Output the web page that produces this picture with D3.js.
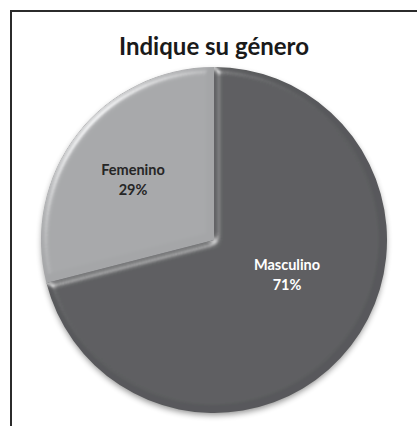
<!DOCTYPE html>
<html><head><meta charset="utf-8">
<script src="https://cdn.jsdelivr.net/npm/d3@7"></script>
<style>
html,body{margin:0;padding:0;background:#fff;}
svg{display:block;}
</style></head>
<body>
<script>
const title = "Indique su género";
const categories = ["Masculino", "Femenino"];
const values = [71, 29];
const colors = ["#58595b", "#a5a6a8"];
const labelColors = ["#ffffff", "#262626"];

const W = 417, H = 426;
const cx = 214, cy = 240, R = 173;

const svg = d3.select("body").append("svg").attr("width", W).attr("height", H);
const defs = svg.append("defs");

// drop shadow
const sh = defs.append("filter").attr("id","shadow").attr("x","-20%").attr("y","-20%").attr("width","140%").attr("height","140%");
sh.append("feGaussianBlur").attr("in","SourceAlpha").attr("stdDeviation",3).attr("result","b");
sh.append("feOffset").attr("in","b").attr("dx",0).attr("dy",3).attr("result","o");
sh.append("feComponentTransfer").attr("in","o").attr("result","o2")
  .append("feFuncA").attr("type","linear").attr("slope",0.45);
const m = sh.append("feMerge");
m.append("feMergeNode").attr("in","o2");
m.append("feMergeNode").attr("in","SourceGraphic");

// bevel filter
const bv = defs.append("filter").attr("id","bevel").attr("x","-10%").attr("y","-10%").attr("width","120%").attr("height","120%");
bv.append("feGaussianBlur").attr("in","SourceAlpha").attr("stdDeviation",3.5).attr("result","blur");
const spec = bv.append("feSpecularLighting").attr("in","blur").attr("surfaceScale",5).attr("specularConstant",0.9)
  .attr("specularExponent",18).attr("lighting-color","#ffffff").attr("result","spec");
spec.append("feDistantLight").attr("azimuth",225).attr("elevation",22);
bv.append("feComposite").attr("in","spec").attr("in2","SourceAlpha").attr("operator","in").attr("result","specIn");
bv.append("feComposite").attr("in","SourceGraphic").attr("in2","specIn").attr("operator","arithmetic")
  .attr("k1",0).attr("k2",1).attr("k3",0.5).attr("k4",0);

// frame
svg.append("rect").attr("x",11).attr("y",11).attr("width",W).attr("height",H)
  .attr("fill","#fff").attr("stroke","#2b2b2b").attr("stroke-width",2);

svg.append("text").attr("x",214).attr("y",55).attr("text-anchor","middle")
  .attr("font-family","Lato, 'Open Sans', sans-serif").attr("font-weight","bold")
  .attr("font-size",24).attr("fill","#1a1a1a").text(title);

const data = categories.map((c,i)=>({cat:c, value:values[i], color:colors[i], lc:labelColors[i]}));
const pie = d3.pie().sort(null).value(d=>d.value);
const arc = d3.arc().innerRadius(0).outerRadius(R);
const arcs = pie(data);

const g = svg.append("g").attr("transform",`translate(${cx},${cy})`);
const shadowG = g.append("g").attr("filter","url(#shadow)");
shadowG.append("circle").attr("r",R-1).attr("fill","#58595b");

g.selectAll("path.slice").data(arcs).join("path")
  .attr("class","slice")
  .attr("d",arc)
  .attr("fill",d=>d.data.color)
  .attr("filter","url(#bevel)");

const labelPos = {"Masculino":[73,30], "Femenino":[-81,-65]};
arcs.forEach(a=>{
  const p = labelPos[a.data.cat];
  const t = g.append("text").attr("text-anchor","middle")
    .attr("font-family","Lato, 'Open Sans', sans-serif").attr("font-weight","bold")
    .attr("font-size",14.5).attr("fill",a.data.lc);
  t.append("tspan").attr("x",p[0]).attr("y",p[1]).text(a.data.cat);
  t.append("tspan").attr("x",p[0]).attr("y",p[1]+20).text(Math.round(a.data.value)+"%");
});
</script>
</body></html>
